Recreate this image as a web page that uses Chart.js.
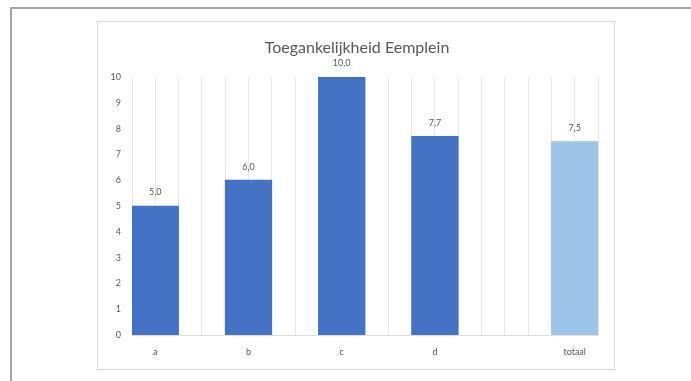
<!DOCTYPE html>
<html>
<head>
<meta charset="utf-8">
<script src="https://cdn.jsdelivr.net/npm/chart.js@4/dist/chart.umd.min.js"></script>
<style>
  html, body { margin:0; padding:0; background:#ffffff; overflow:hidden; width:691px; height:381px; }
  #outer { position:absolute; left:10px; top:7px; width:700px; height:400px; border-top:2px solid #a6a6a6; border-left:2px solid #a6a6a6; }
  #inner { position:absolute; left:97px; top:21px; width:516px; height:347px; border:1px solid #d9d9d9; }
  #c { position:absolute; left:0; top:0; }
</style>
</head>
<body>
<div id="outer"></div>
<div id="inner"></div>
<canvas id="c" width="691" height="381"></canvas>
<script>
// ---- data ----
const chartTitle = 'Toegankelijkheid Eemplein';
const categories = ['a', '', 'b', '', 'c', '', 'd', '', '', 'totaal'];
const scores = [5.0, null, 6.0, null, 10.0, null, 7.7, null, null, 7.5];
const yMin = 0;
const yMax = 10;
const yStep = 1;
const totalLabel = 'totaal';

// ---- styles ----
const barColor = '#4472C4';
const totalColor = '#9DC3E6';
const textColor = '#595959';
const gridColor = '#e8e8e8';

const valueLabels = {
  id: 'valueLabels',
  afterDatasetsDraw(chart) {
    const ctx = chart.ctx;
    const meta = chart.getDatasetMeta(0);
    ctx.save();
    ctx.fillStyle = textColor;
    ctx.font = '9px Lato, "Liberation Sans", sans-serif';
    ctx.textAlign = 'center';
    ctx.textBaseline = 'middle';
    meta.data.forEach((el, i) => {
      const v = scores[i];
      if (v === null || v === undefined) return;
      ctx.fillText(v.toFixed(1).replace('.', ','), el.x, el.y - 13.5);
    });
    ctx.restore();
  }
};

new Chart(document.getElementById('c'), {
  type: 'bar',
  data: {
    labels: categories,
    datasets: [{
      data: scores,
      backgroundColor: (c) => categories[c.dataIndex] === totalLabel ? totalColor : barColor,
      barPercentage: 1,
      categoryPercentage: 1,
      borderWidth: 0
    }]
  },
  options: {
    responsive: false,
    animation: false,
    devicePixelRatio: 1,
    layout: { padding: { left: 100, right: 77, top: 38, bottom: 13 } },
    plugins: {
      legend: { display: false },
      tooltip: { enabled: false },
      title: {
        display: true,
        text: chartTitle,
        color: textColor,
        font: { family: 'Lato', size: 16, weight: 'normal', lineHeight: 1.2 },
        padding: { top: 0, bottom: 19.8 }
      }
    },
    scales: {
      x: {
        type: 'category',
        offset: true,
        grid: { offset: true, color: gridColor, drawTicks: false },
        border: { display: true, color: '#e0e0e0' },
        ticks: { color: textColor, font: { family: 'Lato', size: 9 }, padding: 12, autoSkip: false, maxRotation: 0 },
        afterFit: (s) => { s.height = 33; }
      },
      x2: {
        type: 'category',
        labels: categories,
        position: 'top',
        offset: true,
        grid: { offset: false, color: gridColor, drawTicks: false },
        border: { display: false },
        ticks: { display: false },
        afterFit: (s) => { s.height = 0; }
      },
      y: {
        min: yMin,
        max: yMax,
        ticks: { stepSize: yStep, color: textColor, font: { family: 'Lato', size: 9 }, padding: 11 },
        grid: { display: false, drawTicks: false },
        border: { display: false },
        afterFit: (s) => { s.width = 32; }
      },
      y2: {
        type: 'linear',
        position: 'right',
        min: yMin,
        max: yMax,
        ticks: { display: false },
        grid: { display: false, drawTicks: false },
        border: { display: false },
        afterFit: (s) => { s.width = 16; }
      }
    }
  },
  plugins: [valueLabels]
});
</script>
</body>
</html>
